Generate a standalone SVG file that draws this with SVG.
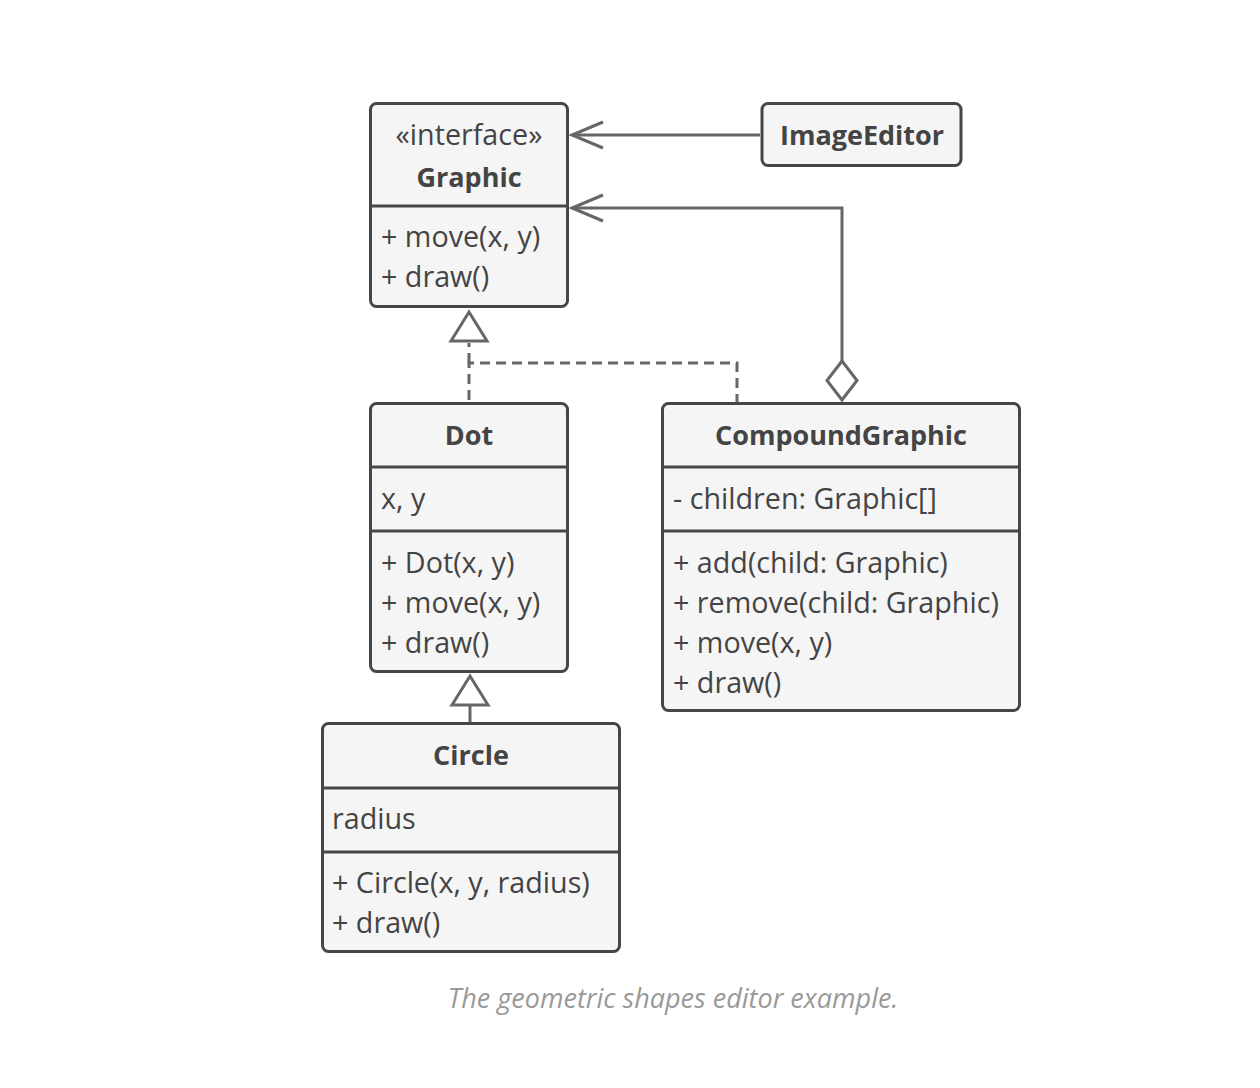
<svg xmlns="http://www.w3.org/2000/svg" width="1260" height="1088" viewBox="0 0 1260 1088">
<style>
.box{fill:#f5f5f5;stroke:#464646;stroke-width:3}
.sep{stroke:#464646;stroke-width:3}
.t{font-family:"Open Sans","Liberation Sans",sans-serif;font-size:28.7px;fill:#444}
.b{font-weight:bold;text-anchor:middle;font-size:27px}
.c{text-anchor:middle}
.ln{fill:none;stroke:#666;stroke-width:3}
.dash{stroke-dasharray:10 6}
.cap{font-family:"Open Sans","Liberation Sans",sans-serif;font-style:italic;font-size:27px;fill:#999;text-anchor:middle}
</style>
<rect width="1260" height="1088" fill="#fff"/>
<g id="connectors">
<path class="ln" d="M760 135 H572"/>
<path class="ln" d="M603 122 L572 135 L603 148"/>
<path class="ln" d="M842 361 V208 H572"/>
<path class="ln" d="M603 195 L572 208 L603 221"/>
<path class="ln" d="M842 361 L857 380.5 L842 400 L827 380.5 Z" fill="#fff"/>
<path class="ln dash" d="M469 400 V363 H737 V403"/>
<path class="ln dash" d="M469 363 V343"/>
<path class="ln" d="M469 312 L487 341 L451 341 Z" fill="#fff"/>
<path class="ln" d="M470 722 V706"/>
<path class="ln" d="M470 676 L488 705 L452 705 Z" fill="#fff"/>
</g>
<g id="graphic">
<rect class="box" x="370.5" y="103.5" width="197" height="203" rx="6"/>
<line class="sep" x1="370.5" y1="206" x2="567.5" y2="206"/>
<text class="t c" x="469" y="145">«interface»</text>
<text class="t b" x="469" y="187">Graphic</text>
<text class="t" x="381" y="247">+ move(x, y)</text>
<text class="t" x="381" y="287">+ draw()</text>
</g>
<g id="imageeditor">
<rect class="box" x="762" y="103.5" width="199" height="62" rx="6"/>
<text class="t b" x="862" y="145">ImageEditor</text>
</g>
<g id="dot">
<rect class="box" x="370.5" y="403.5" width="197" height="268" rx="6"/>
<line class="sep" x1="370.5" y1="467" x2="567.5" y2="467"/>
<line class="sep" x1="370.5" y1="531" x2="567.5" y2="531"/>
<text class="t b" x="469" y="445">Dot</text>
<text class="t" x="381" y="509">x, y</text>
<text class="t" x="381" y="573">+ Dot(x, y)</text>
<text class="t" x="381" y="613">+ move(x, y)</text>
<text class="t" x="381" y="653">+ draw()</text>
</g>
<g id="compoundgraphic">
<rect class="box" x="662.5" y="403.5" width="357" height="307" rx="6"/>
<line class="sep" x1="662.5" y1="467" x2="1019.5" y2="467"/>
<line class="sep" x1="662.5" y1="531" x2="1019.5" y2="531"/>
<text class="t b" x="841" y="445">CompoundGraphic</text>
<text class="t" x="673" y="509">- children: Graphic[]</text>
<text class="t" x="673" y="573">+ add(child: Graphic)</text>
<text class="t" x="673" y="613">+ remove(child: Graphic)</text>
<text class="t" x="673" y="653">+ move(x, y)</text>
<text class="t" x="673" y="693">+ draw()</text>
</g>
<g id="circle">
<rect class="box" x="322.5" y="723.5" width="297" height="228" rx="6"/>
<line class="sep" x1="322.5" y1="788" x2="619.5" y2="788"/>
<line class="sep" x1="322.5" y1="852" x2="619.5" y2="852"/>
<text class="t b" x="471" y="765">Circle</text>
<text class="t" x="332" y="829">radius</text>
<text class="t" x="332" y="893">+ Circle(x, y, radius)</text>
<text class="t" x="332" y="933">+ draw()</text>
</g>
<text class="cap" x="673" y="1008">The geometric shapes editor example.</text>
</svg>
